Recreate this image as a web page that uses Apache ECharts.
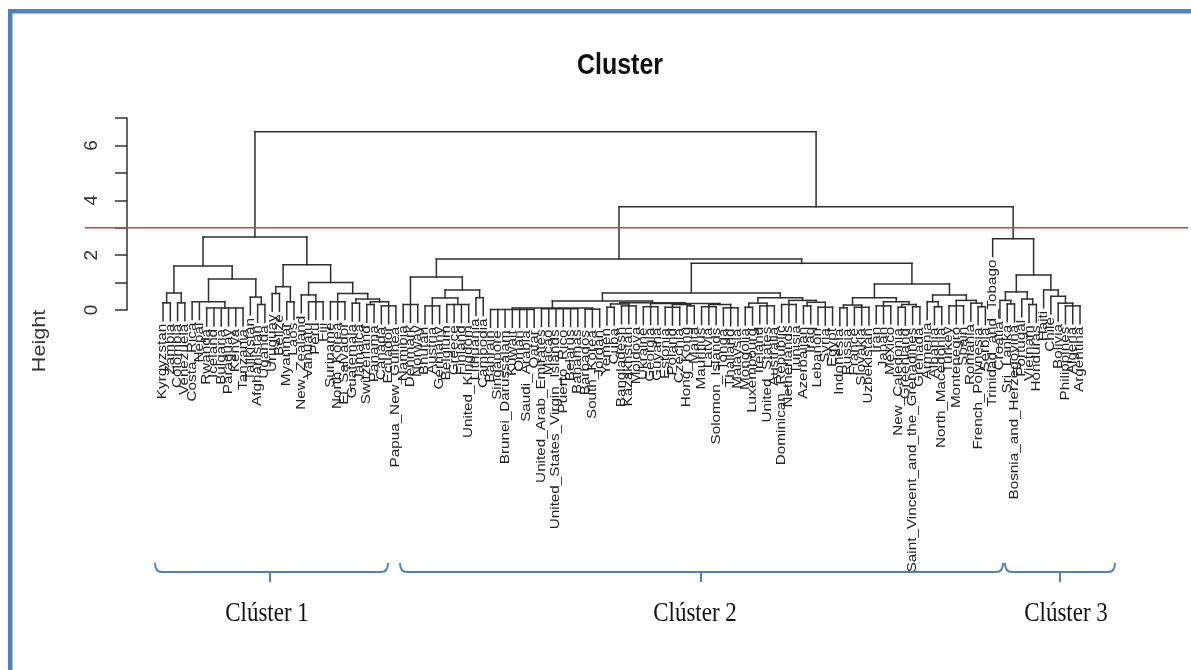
<!DOCTYPE html>
<html>
<head>
<meta charset="utf-8">
<script src="https://cdn.jsdelivr.net/npm/echarts@6/dist/echarts.min.js"></script>
<style>
  html, body { margin: 0; padding: 0; background: #fff; }
  #chart { width: 1191px; height: 670px; }
</style>
</head>
<body>
<div id="chart"></div>
<script>
// Hierarchical clustering of countries. Each internal node is
// [mergeHeight, child, child, ...]; leaves are country names.
const cluster1 = [2.66,
  [1.6,
    [0.62, [0.26, 'Kyrgyzstan', 'Zambia'], [0.26, 'Colombia', 'Venezuela']],
    [1.13,
      [0.3, 'Costa_Rica', 'Nepal', [0.07, 'Rwanda', 'Iceland', 'Bulgaria', 'Paraguay', 'Kenya', 'Tanzania']],
      [0.47, 'Tajikistan', [0.2, 'Afghanistan', 'Uganda']]
    ]
  ],
  [1.65,
    [0.85, [0.6, 'Uruguay', 'Belize'], [0.3, 'Myanmar', 'Laos']],
    [1.0,
      [0.55, 'New_Zealand', [0.3, 'Vanuatu', 'Peru', 'Fiji']],
      [0.6,
        [0.3, 'Suriname', 'North_Korea', 'El_Salvador'],
        [0.4, [0.25, 'Guatemala', 'Jamaica'],
              [0.3, [0.2, 'Switzerland', 'Panama'], [0.15, 'Canada', 'Ecuador', 'Papua_New_Guinea']]]
      ]
    ]
  ]
];

const cluster2 = [1.86,
  [1.2,
    [0.2, 'Namibia', 'Denmark', 'Norway'],
    [0.73,
      [0.44, [0.15, 'Bhutan', 'Austria', 'Germany'], [0.2, 'Belgium', 'Greece', 'Finland', 'United_Kingdom']],
      [0.45, 'Lithuania', 'Cambodia']
    ]
  ],
  [1.7,
    [0.62,
      [0.33,
        [0.07,
          [0.02, 'Bahrain', 'Singapore', 'Brunei_Darussalam', 'Kuwait', 'Oman', 'Saudi_Arabia', 'Qatar'],
          [0.05, 'United_Arab_Emirates', 'Macao', 'United_States_Virgin_Islands', 'Puerto_Rico', 'Belarus', 'Bahamas'],
          [0.03, 'Barbados', 'South_Korea', 'Jordan']
        ],
        [0.26,
          [0.22, [0.1, 'Yemen', 'Cuba'], [0.15, 'Bangladesh', 'Kazakhstan', 'Moldova']],
          [0.24,
            [0.12, 'Ukraine', 'Georgia', 'Guyana'],
            [0.2, [0.1, 'Estonia', 'Poland', 'Czechia'], [0.15, 'Hong_Kong', 'Malta']],
            [0.2, [0.12, 'Mauritius', 'Latvia', 'Solomon_Islands'], [0.08, 'Tonga', 'Thailand', 'Malaysia']]
          ]
        ]
      ],
      [0.45,
        [0.25, [0.1, 'Mongolia', 'Luxembourg'], [0.15, 'Ireland', 'United_States', 'Australia']],
        [0.35, [0.2, 'Dominican_Republic', 'Netherlands', 'Tunisia'],
               [0.28, [0.15, 'Azerbaijan', 'Iraq'], [0.1, 'Lebanon', 'Syria', 'Egypt']]]
      ]
    ],
    [0.95,
      [0.45,
        [0.18, [0.08, 'Indonesia', 'Russia'], [0.1, 'France', 'Slovakia', 'Uzbekistan']],
        [0.3, [0.15, 'Iran', 'Japan', 'Mexico'],
              [0.2, [0.1, 'New_Caledonia', 'Greenland'], [0.12, 'Saint_Vincent_and_the_Grenadines', 'Grenada']]]
      ],
      [0.55,
        [0.3, 'Armenia', [0.12, 'Albania', 'North_Macedonia']],
        [0.35, [0.15, 'Turkey', 'Montenegro', 'Spain'], [0.25, 'Romania', [0.12, 'French_Polynesia', 'Serbia']]]
      ]
    ]
  ]
];

const cluster3 = [2.6,
  'Trinidad_and_Tobago',
  [1.28,
    [0.66, [0.35, 'Croatia', [0.22, 'Sri_Lanka', 'Bosnia_and_Herzegovina']],
           [0.4, 'Portugal', [0.2, 'Vietnam', 'Honduras']]],
    [0.73, 'Haiti', [0.5, 'Chile', [0.25, 'Bolivia', [0.15, 'Philippines', 'Algeria', 'Argentina']]]]
  ]
];

const upperMerges = [6.5, 3.76];       // root, then clusters 2 + 3
const cutHeight = 3;
const heightTicks = [0, 1, 2, 3, 4, 5, 6, 7];
const heightLabels = [0, 2, 4, 6];
const clusterNames = ['Clúster 1', 'Clúster 2', 'Clúster 3'];

// ---- dendrogram layout (leaf order, node positions in data units) ----
const HANG = 0.65;          // leaves hang this far below their merge height
const leafOrder = [];
const leafLabels = [];      // [leafIndex, bottomHeight, name]
const nodes = [];

function layout(t) {
  if (typeof t === 'string') {
    const i = leafOrder.length;
    leafOrder.push(t);
    return { x: i, h: 0, leaf: true, name: t };
  }
  const h = t[0];
  const kids = t.slice(1).map(layout);
  const x = (kids[0].x + kids[kids.length - 1].x) / 2;
  kids.forEach(k => { if (k.leaf) leafLabels.push([k.x, h - HANG, k.name]); });
  nodes.push({ x, h, kids: kids.map(k => ({ x: k.x, top: k.leaf ? h - HANG : k.h })) });
  return { x, h, leaf: false };
}
layout([upperMerges[0], cluster1, [upperMerges[1], cluster2, cluster3]]);

// the height axis sits a little to the left of the first leaf
const AXIS_GAP = 4.95;      // in leaf spacings

const LINE = { stroke: '#2e2e2e', lineWidth: 1.5, lineCap: 'square' };

function renderNode(params, api) {
  const n = nodes[api.value(2)];
  const yTop = api.coord([0, n.h])[1];
  const xl = api.coord([n.kids[0].x, 0])[0];
  const xr = api.coord([n.kids[n.kids.length - 1].x, 0])[0];
  const children = [{ type: 'line', shape: { x1: xl, y1: yTop, x2: xr, y2: yTop }, style: LINE }];
  n.kids.forEach(k => {
    const p = api.coord([k.x, k.top]);
    children.push({ type: 'line', shape: { x1: p[0], y1: yTop, x2: p[0], y2: p[1] }, style: LINE });
  });
  return { type: 'group', children };
}

function renderLeafLabel(params, api) {
  const p = api.coord([api.value(0), api.value(1)]);
  return {
    type: 'text',
    x: p[0], y: p[1] + 3,
    rotation: Math.PI / 2,
    scaleX: 1.22,
    style: {
      text: leafLabels[params.dataIndex][2],
      x: 0, y: 0,
      fontSize: 12.5,
      fontFamily: 'Liberation Sans, Arial, sans-serif',
      fill: '#222',
      align: 'right', verticalAlign: 'middle',
      textAlign: 'right', textVerticalAlign: 'middle'
    }
  };
}

function renderCut(params, api) {
  const y = api.coord([0, api.value(1)])[1];
  return { type: 'line', shape: { x1: 85, y1: y, x2: 1188, y2: y },
           style: { stroke: '#c94040', lineWidth: 1.6 } };
}

// ---- annotation shapes ----
const BLUE = '#4f81bd';
function bracket(x1, x2, cx, yTop, yMid, yTip) {
  const s = { stroke: BLUE, lineWidth: 2, fill: null };
  return [
    { type: 'bezierCurve', shape: { x1: x1, y1: yTop, cpx1: x1, cpy1: yMid, x2: x1 + 7, y2: yMid }, style: s },
    { type: 'line', shape: { x1: x1 + 7, y1: yMid, x2: x2 - 7, y2: yMid }, style: s },
    { type: 'line', shape: { x1: cx, y1: yMid, x2: cx, y2: yTip }, style: s },
    { type: 'bezierCurve', shape: { x1: x2 - 7, y1: yMid, cpx1: x2, cpy1: yMid, x2: x2, y2: yTop }, style: s }
  ];
}
function label(text, x, y, font, fill, opts) {
  return Object.assign({
    type: 'text', x, y,
    style: { text, x: 0, y: 0, font, fill,
             align: 'center', verticalAlign: 'middle',
             textAlign: 'center', textVerticalAlign: 'middle' }
  }, opts || {});
}

const bracketSpec = [[155, 388, 270], [400, 1003, 701], [1005, 1115, 1060]];
const nameX = [267, 695, 1066];

const graphics = [
  { type: 'rect', shape: { x: 8, y: 9, width: 1183, height: 4.5 }, style: { fill: BLUE } },
  { type: 'rect', shape: { x: 8, y: 9, width: 4.5, height: 661 }, style: { fill: BLUE } },
  label('Cluster', 620, 66, 'bold 25px "Liberation Sans", Arial, sans-serif', '#111', { scaleY: 1.2 }),
  label('Height', 40, 341, '18px "Liberation Sans", Arial, sans-serif', '#333', { rotation: Math.PI / 2, scaleX: 1.2 })
];
bracketSpec.forEach((b, i) => {
  bracket(b[0], b[1], b[2], 563, 572, 582).forEach(g => graphics.push(g));
  graphics.push(label(clusterNames[i], nameX[i], 614, '23px "Liberation Serif", "Times New Roman", serif', '#111', { scaleY: 1.15 }));
});

const chart = echarts.init(document.getElementById('chart'), null, { renderer: 'canvas' });
chart.setOption({
  animation: false,
  backgroundColor: '#fff',
  grid: { left: 127, right: 111, top: 118, bottom: 360 },
  xAxis: { type: 'value', min: -AXIS_GAP, max: leafOrder.length - 1, show: false },
  yAxis: {
    type: 'value', min: heightTicks[0], max: heightTicks[heightTicks.length - 1], interval: 1,
    axisLine: { show: true, onZero: false, lineStyle: { color: '#333', width: 1.5 } },
    axisTick: { show: true, length: 12, inside: false, lineStyle: { color: '#333', width: 1.5 } },
    axisLabel: {
      rotate: 90, margin: 26, fontSize: 19, color: '#333',
      fontFamily: 'Liberation Sans, Arial, sans-serif',
      formatter: v => heightLabels.includes(v) ? String(v) : ''
    },
    splitLine: { show: false }
  },
  graphic: graphics,
  series: [
    { type: 'custom', coordinateSystem: 'cartesian2d', clip: false, silent: true,
      data: nodes.map((n, i) => [n.x, n.h, i]), renderItem: renderNode,
      encode: { x: 0, y: 1 } },
    { type: 'custom', coordinateSystem: 'cartesian2d', clip: false, silent: true,
      data: leafLabels.map(l => [l[0], l[1]]), renderItem: renderLeafLabel,
      encode: { x: 0, y: 1 } },
    { type: 'custom', coordinateSystem: 'cartesian2d', clip: false, silent: true,
      data: [[0, cutHeight]], renderItem: renderCut, encode: { x: 0, y: 1 } }
  ]
});
</script>
</body>
</html>
